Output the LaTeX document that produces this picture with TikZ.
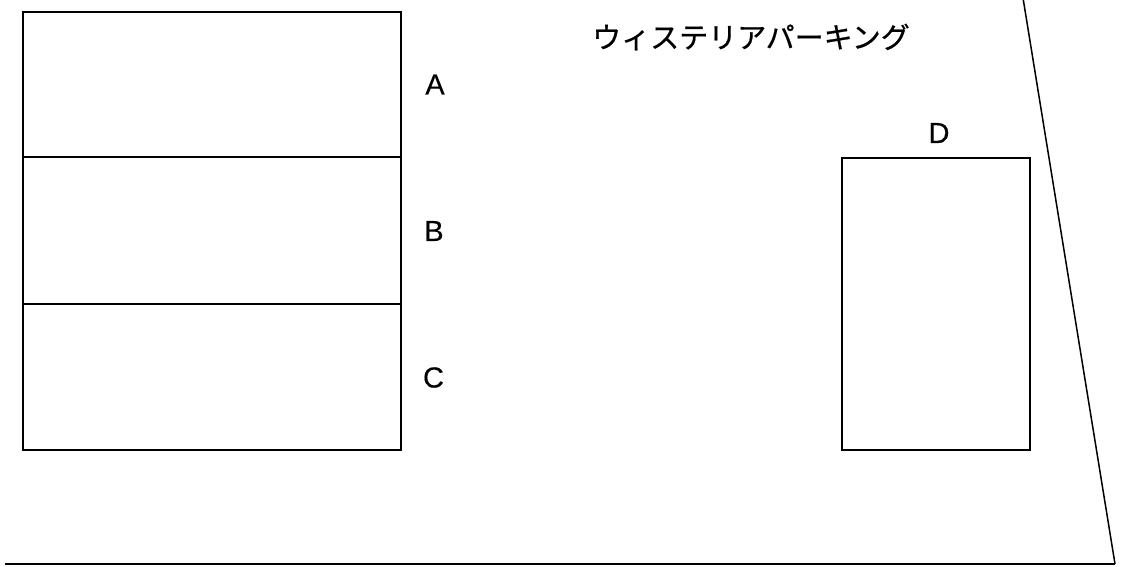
\documentclass[tikz,border=0pt]{standalone}
\usepackage{fontspec}
\setmainfont{Liberation Sans}
\newfontfamily\cjk[FakeBold=0.6]{Noto Sans CJK JP}
\newfontfamily\lblfont[FakeBold=0.3]{Liberation Sans}
\begin{document}
\begin{tikzpicture}[x=1pt,y=-1pt,
  lot/.style={draw=black,line width=2.2pt,inner sep=0pt},
  edge/.style={draw=black,line width=1.5pt},
  lbl/.style={font=\lblfont\fontsize{29}{31}\selectfont,inner sep=0pt}]
\useasboundingbox (0,0) rectangle (1127,566);
\node[lot,minimum width=378pt,minimum height=145pt] (a) at (212,84.5) {};
\node[lot,minimum width=378pt,minimum height=147pt] (b) at (212,230.5) {};
\node[lot,minimum width=378pt,minimum height=146pt] (c) at (212,377) {};
\node[lot,minimum width=188pt,minimum height=292pt] (d) at (936,304) {};
\node[lbl] (la) at (435,84.5) {A};
\node[lbl] (lb) at (434,231) {B};
\node[lbl] (lc) at (433.5,377.5) {C};
\node[lbl] (ld) at (939,133) {D};
\node[inner sep=0pt,font=\cjk\fontsize{29}{31}\selectfont] (title) at (751,37) {ウィステリアパーキング};
\coordinate (t1) at (1023,-2);
\coordinate (t2) at (1115,564);
\coordinate (b1) at (5,564);
\draw[edge] (t1) -- (t2);
\draw[edge] (b1) -- (t2);
\end{tikzpicture}
\end{document}
